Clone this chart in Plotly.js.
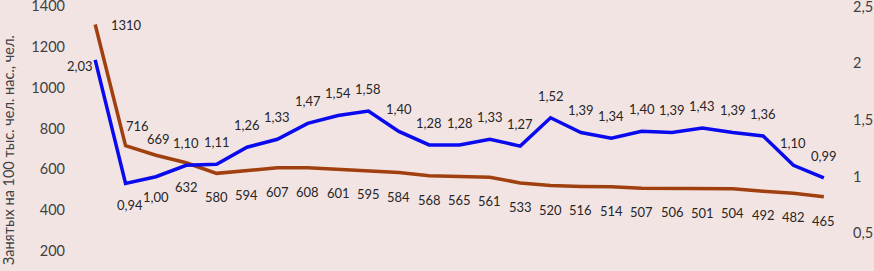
<!DOCTYPE html>
<html>
<head>
<meta charset="utf-8">
<script src="https://cdn.plot.ly/plotly-3.0.1.min.js"></script>
<style>
html,body{margin:0;padding:0;background:#F3E4E4;}
#chart{width:874px;height:271px;}
</style>
</head>
<body>
<div id="chart"></div>
<script>
// ---- data ----
const categories = Array.from({length: 25}, (_, i) => i + 1);
const employedPer100k = [1310, 716, 669, 632, 580, 594, 607, 608, 601, 595, 584, 568, 565, 561, 533, 520, 516, 514, 507, 506, 501, 504, 492, 482, 465];
const ratioValues = [2.03, 0.94, 1.00, 1.10, 1.11, 1.26, 1.33, 1.47, 1.54, 1.58, 1.40, 1.28, 1.28, 1.33, 1.27, 1.52, 1.39, 1.34, 1.40, 1.39, 1.43, 1.39, 1.36, 1.10, 0.99];
const leftTickValues = [200, 400, 600, 800, 1000, 1200, 1400];
const rightTickValues = [0.5, 1, 1.5, 2, 2.5];
const yTitle = "Занятых на 100 тыс. чел. нас., чел.";

// ---- label placement (style) ----
function brownShift(i) {
  if (i === 0) return [31, 0];
  if (i === 1) return [12, 20];
  if (i === 2) return [3, 16];
  return [0, -24];
}
function blueShift(i) {
  if (i === 0) return [-15, -6];
  if (i === 1) return [4, -21];
  if (i === 2) return [0, -20];
  return [0, 22];
}

const brownColor = '#A0400F';
const blueColor = '#0A0AEE';
const textColor = '#262626';
const labelFont = {family: 'Lato, sans-serif', size: 13, color: textColor};

const annotations = [];
categories.forEach((c, i) => {
  const bs = brownShift(i);
  annotations.push({
    x: c, y: employedPer100k[i], xref: 'x', yref: 'y',
    text: String(employedPer100k[i]), showarrow: false,
    xanchor: 'center', yanchor: 'middle', xshift: bs[0], yshift: bs[1],
    font: labelFont
  });
  const us = blueShift(i);
  annotations.push({
    x: c, y: ratioValues[i], xref: 'x', yref: 'y2',
    text: ratioValues[i].toFixed(2).replace('.', ','), showarrow: false,
    xanchor: 'center', yanchor: 'middle', xshift: us[0], yshift: us[1],
    font: labelFont
  });
});
annotations.push({
  xref: 'paper', yref: 'paper', x: (8 - 80) / 759, y: (271 - 150) / 265,
  text: yTitle, textangle: -90, showarrow: false,
  xanchor: 'center', yanchor: 'middle',
  font: {family: 'Lato, sans-serif', size: 14.5, color: '#404040'}
});

const traces = [
  {
    x: categories, y: employedPer100k, type: 'scatter', mode: 'lines',
    line: {color: brownColor, width: 3.5}, yaxis: 'y', hoverinfo: 'skip'
  },
  {
    x: categories, y: ratioValues, type: 'scatter', mode: 'lines',
    line: {color: blueColor, width: 3.5}, yaxis: 'y2', hoverinfo: 'skip'
  }
];

const layout = {
  width: 874, height: 271,
  margin: {l: 80, r: 35, t: 6, b: 0, pad: 0},
  paper_bgcolor: '#F3E4E4', plot_bgcolor: '#F3E4E4',
  showlegend: false,
  separators: ', ',
  xaxis: {
    range: [0.5, 25.5], showgrid: false, zeroline: false,
    showticklabels: false, ticks: '', showline: false
  },
  yaxis: {
    range: [101, 1401], tickvals: leftTickValues,
    showgrid: false, zeroline: false, showline: false, ticks: '',
    ticklabelstandoff: 14, ticklabeloverflow: 'allow',
    tickfont: {family: 'Lato, sans-serif', size: 14.5, color: '#404040'}
  },
  yaxis2: {
    overlaying: 'y', side: 'right',
    range: [0.168, 2.506], tickvals: rightTickValues,
    showgrid: false, zeroline: false, showline: false, ticks: '',
    ticklabelstandoff: 13, ticklabeloverflow: 'allow',
    tickfont: {family: 'Lato, sans-serif', size: 14.5, color: '#404040'}
  },
  annotations: annotations
};

Plotly.newPlot('chart', traces, layout, {staticPlot: true, displayModeBar: false});
</script>
</body>
</html>
